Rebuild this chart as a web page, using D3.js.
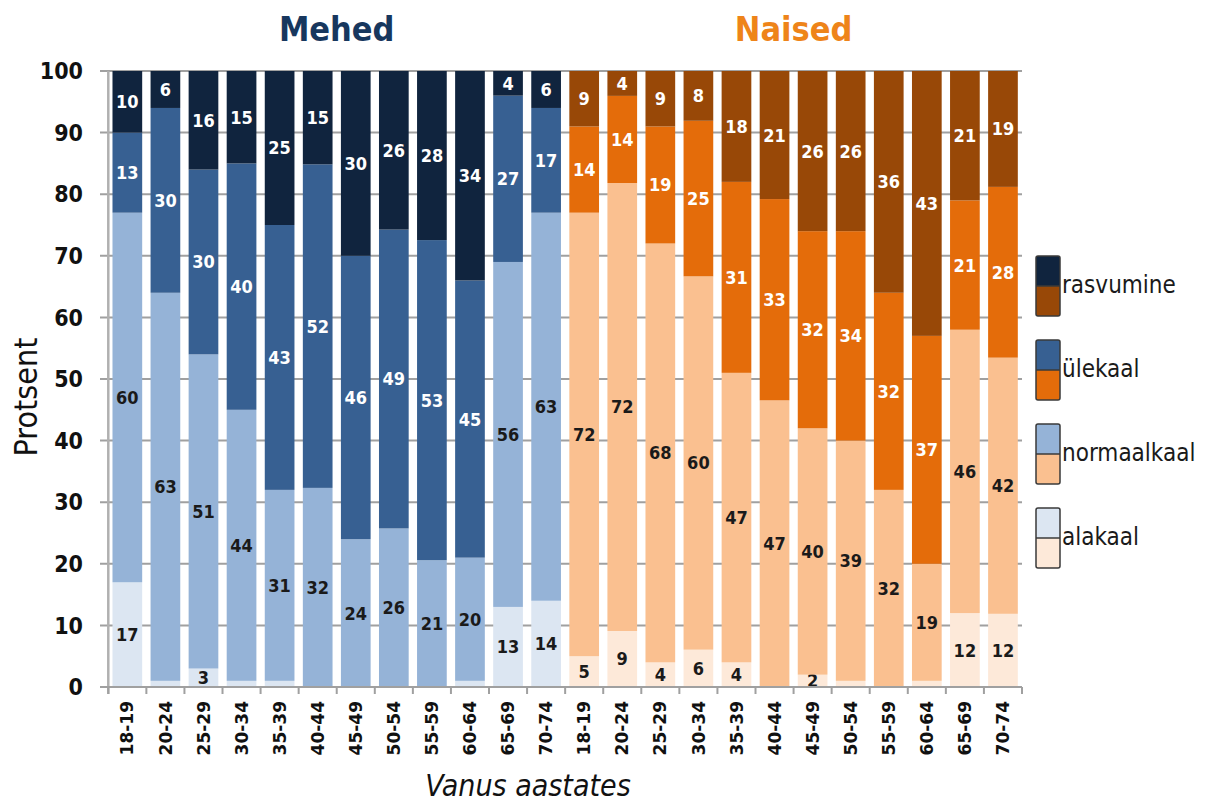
<!DOCTYPE html>
<html>
<head>
<meta charset="utf-8">
<script src="https://cdn.jsdelivr.net/npm/d3@7/dist/d3.min.js"></script>
<style>
  html, body { margin: 0; padding: 0; background: #ffffff; }
  svg { display: block; }
  .cond { font-family: "DejaVu Sans Condensed", "DejaVu Sans", sans-serif; font-stretch: condensed; }
</style>
</head>
<body>
<svg id="chart" width="1208" height="803"></svg>
<script>
// Age groups (same for both sexes)
const ageGroups = ["18-19", "20-24", "25-29", "30-34", "35-39", "40-44",
                   "45-49", "50-54", "55-59", "60-64", "65-69", "70-74"];

// Body weight categories, bottom to top of each stack
const categoryKeys = ["alakaal", "normaalkaal", "ylekaal", "rasvumine"];
const legendLabels = ["rasvumine", "ülekaal", "normaalkaal", "alakaal"];

// Men, percent per age group
const menUnder  = [17, 1, 3, 1, 1, 0, 0, 0, 0, 1, 13, 14];
const menNormal = [60, 63, 51, 44, 31, 32, 24, 26, 21, 20, 56, 63];
const menOver   = [13, 30, 30, 40, 43, 52, 46, 49, 53, 45, 27, 17];
const menObese  = [10, 6, 16, 15, 25, 15, 30, 26, 28, 34, 4, 6];

// Women, percent per age group
const womenUnder  = [5, 9, 4, 6, 4, 0, 2, 1, 0, 1, 12, 12];
const womenNormal = [72, 72, 68, 60, 47, 47, 40, 39, 32, 19, 46, 42];
const womenOver   = [14, 14, 19, 25, 31, 33, 32, 34, 32, 37, 21, 28];
const womenObese  = [9, 4, 9, 8, 18, 21, 26, 26, 36, 43, 21, 19];

// Y axis ticks
const yTicks = [0, 10, 20, 30, 40, 50, 60, 70, 80, 90, 100];

// Group titles
const groupTitles = ["Mehed", "Naised"];

// Colours per sex and category
const menColors   = { alakaal: "#dce6f2", normaalkaal: "#95b3d7", ylekaal: "#376092", rasvumine: "#10243e" };
const womenColors = { alakaal: "#fde9d9", normaalkaal: "#fac090", ylekaal: "#e46c0a", rasvumine: "#984807" };
const labelColors = { alakaal: "#1a1a1a", normaalkaal: "#1a1a1a", ylekaal: "#ffffff", rasvumine: "#ffffff" };

// Build row table
const rows = [];
ageGroups.forEach((a, i) => rows.push({ key: "M" + a, sex: "M", age: a,
  alakaal: menUnder[i], normaalkaal: menNormal[i], ylekaal: menOver[i], rasvumine: menObese[i] }));
ageGroups.forEach((a, i) => rows.push({ key: "N" + a, sex: "N", age: a,
  alakaal: womenUnder[i], normaalkaal: womenNormal[i], ylekaal: womenOver[i], rasvumine: womenObese[i] }));

const svg = d3.select("#chart");

const x = d3.scaleBand()
  .domain(rows.map(d => d.key))
  .range([108.3, 1022])
  .paddingInner(0.22)
  .paddingOuter(0.11);

const y = d3.scaleLinear().domain([0, 100]).range([687, 71]);

// Gridlines
svg.append("g").selectAll("line")
  .data(yTicks)
  .join("line")
  .attr("x1", 100).attr("x2", 1022)
  .attr("y1", d => y(d)).attr("y2", d => y(d))
  .attr("stroke", "#a0a0a0").attr("stroke-width", 2);

// Y axis line
svg.append("line")
  .attr("x1", 108.3).attr("x2", 108.3)
  .attr("y1", y(100)).attr("y2", y(0) + 7)
  .attr("stroke", "#b0b0b0").attr("stroke-width", 2.5);

// Y tick labels
svg.append("g").selectAll("text")
  .data(yTicks)
  .join("text")
  .attr("class", "cond")
  .attr("x", 83).attr("y", d => y(d))
  .attr("dy", "0.36em")
  .attr("text-anchor", "end")
  .attr("font-size", 23).attr("font-weight", "bold")
  .attr("fill", "#111")
  .text(d => d);

// Stacked, normalised to 100 %
const stack = d3.stack().keys(categoryKeys).offset(d3.stackOffsetExpand);
const series = stack(rows);

const segGroups = svg.append("g").selectAll("g")
  .data(series)
  .join("g");

segGroups.selectAll("rect")
  .data(s => s.map(d => ({ key: s.key, d })))
  .join("rect")
  .attr("x", o => x(o.d.data.key))
  .attr("width", x.bandwidth())
  .attr("y", o => y(o.d[1] * 100))
  .attr("height", o => y(o.d[0] * 100) - y(o.d[1] * 100))
  .attr("fill", o => (o.d.data.sex === "M" ? menColors : womenColors)[o.key]);

// Value labels
segGroups.selectAll("text")
  .data(s => s.map(d => ({ key: s.key, d })).filter(o => o.d.data[o.key] >= 2))
  .join("text")
  .attr("class", "cond")
  .attr("x", o => x(o.d.data.key) + x.bandwidth() / 2)
  .attr("y", o => y((o.d[0] + o.d[1]) / 2 * 100))
  .attr("dy", "0.36em")
  .attr("text-anchor", "middle")
  .attr("font-size", 18).attr("font-weight", "bold")
  .attr("fill", o => labelColors[o.key])
  .text(o => o.d.data[o.key]);

// Bottom axis
const step = x.step();
const x0 = x.range()[0];
svg.append("line")
  .attr("x1", 100).attr("x2", 1022)
  .attr("y1", y(0)).attr("y2", y(0))
  .attr("stroke", "#a0a0a0").attr("stroke-width", 2);
svg.append("g").selectAll("line")
  .data(d3.range(rows.length + 1))
  .join("line")
  .attr("x1", i => x0 + i * step).attr("x2", i => x0 + i * step)
  .attr("y1", y(0)).attr("y2", y(0) + 7)
  .attr("stroke", "#a0a0a0").attr("stroke-width", 2);

// X tick labels, rotated
svg.append("g").selectAll("text")
  .data(rows)
  .join("text")
  .attr("transform", d => `translate(${x(d.key) + x.bandwidth() / 2},701) rotate(-90)`)
  .attr("dy", "0.36em")
  .attr("text-anchor", "end")
  .attr("font-family", "DejaVu Sans, sans-serif")
  .attr("font-size", 17).attr("font-weight", "bold")
  .attr("fill", "#111")
  .text(d => d.age);

// Group titles
const menKeys = rows.filter(d => d.sex === "M").map(d => d.key);
const womenKeys = rows.filter(d => d.sex === "N").map(d => d.key);
const groupCenter = keys => (x(keys[0]) + x(keys[keys.length - 1]) + x.bandwidth()) / 2;
svg.append("g").selectAll("text")
  .data([{ t: groupTitles[0], keys: menKeys, c: "#17375e" }, { t: groupTitles[1], keys: womenKeys, c: "#ee8419" }])
  .join("text")
  .attr("class", "cond")
  .attr("x", d => groupCenter(d.keys))
  .attr("y", 41)
  .attr("text-anchor", "middle")
  .attr("font-size", 34).attr("font-weight", "bold")
  .attr("fill", d => d.c)
  .text(d => d.t);

// Axis titles
svg.append("text")
  .attr("class", "cond")
  .attr("transform", "translate(37,397) rotate(-90)")
  .attr("text-anchor", "middle")
  .attr("font-size", 32)
  .attr("fill", "#111")
  .text("Protsent");

svg.append("text")
  .attr("class", "cond")
  .attr("x", 528).attr("y", 796)
  .attr("text-anchor", "middle")
  .attr("font-size", 30).attr("font-style", "italic")
  .attr("fill", "#111")
  .text("Vanus aastates");

// Legend: each swatch shows the men's colour above the women's colour
const legendKeys = ["rasvumine", "ylekaal", "normaalkaal", "alakaal"];
const legend = svg.append("g").selectAll("g")
  .data(legendKeys.map((k, i) => ({ k, label: legendLabels[i], i })))
  .join("g")
  .attr("transform", d => `translate(1036,${286 + d.i * 84})`);

legend.append("rect")
  .attr("x", 0).attr("y", -30).attr("width", 24).attr("height", 30)
  .attr("fill", d => menColors[d.k]);
legend.append("rect")
  .attr("x", 0).attr("y", 0).attr("width", 24).attr("height", 30)
  .attr("fill", d => womenColors[d.k]);
legend.append("rect")
  .attr("x", 0).attr("y", -30).attr("width", 24).attr("height", 60)
  .attr("rx", 2)
  .attr("fill", "none").attr("stroke", "#3a3a3a").attr("stroke-width", 1.5);
legend.append("line")
  .attr("x1", 0).attr("x2", 24).attr("y1", 0).attr("y2", 0)
  .attr("stroke", "#3a3a3a").attr("stroke-width", 1.5);
legend.append("text")
  .attr("class", "cond")
  .attr("x", 26).attr("y", 7)
  .attr("font-size", 24)
  .attr("fill", "#1a1a1a")
  .text(d => d.label);
</script>
</body>
</html>
